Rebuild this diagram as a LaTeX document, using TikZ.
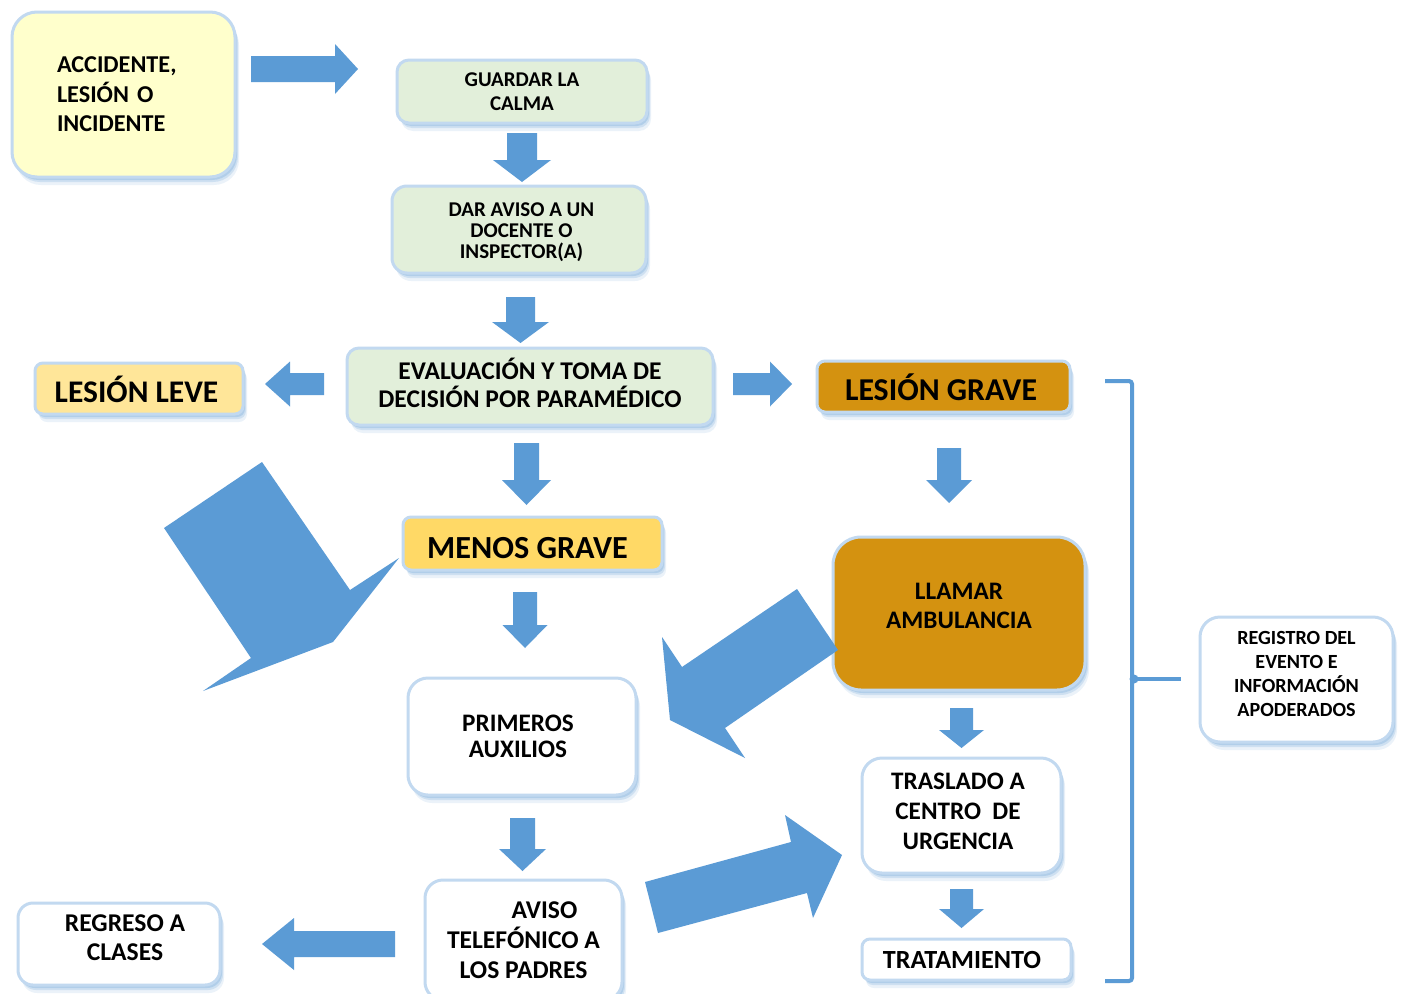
\documentclass[tikz,border=0pt]{standalone}
\usepackage{fontspec}
\setmainfont{Carlito}
\usetikzlibrary{shadows}
\definecolor{arrowblue}{HTML}{5B9BD5}
\definecolor{glowblue}{HTML}{C2D9F0}
\definecolor{paleyellow}{HTML}{FFFFCC}
\definecolor{palegreen}{HTML}{E2EFDA}
\definecolor{leveyellow}{HTML}{FFE699}
\definecolor{menosyellow}{HTML}{FFD966}
\definecolor{goldbox}{HTML}{D49210}
\newcommand{\varw}[6]{\fill[blockarrow] ({#1-#2},#4) -- ({#1+#2},#4) -- ({#1+#2},#5) -- ({#1+#3},#5) -- (#1,#6) -- ({#1-#3},#5) -- ({#1-#2},#5) -- cycle;}
\newcommand{\harw}[6]{\fill[blockarrow] (#4,{#1-#2}) -- (#5,{#1-#2}) -- (#5,{#1-#3}) -- (#6,#1) -- (#5,{#1+#3}) -- (#5,{#1+#2}) -- (#4,{#1+#2}) -- cycle;}
\newcommand{\hs}[1]{\hspace*{#1pt}}
\tikzset{
  box/.style={rectangle, rounded corners=#1, draw=glowblue, line width=3pt, inner sep=0pt,
    align=center, text=black,
    general shadow={fill=arrowblue, opacity=0.12, shadow xshift=4pt, shadow yshift=-8pt},
    general shadow={fill=arrowblue, opacity=0.20, shadow xshift=3pt, shadow yshift=-5pt},
    general shadow={fill=arrowblue, opacity=0.25, shadow xshift=2pt, shadow yshift=-3pt}},
  box/.default=12pt,
  blockarrow/.style={fill=arrowblue, draw=none},
  bracketline/.style={draw=arrowblue, line width=4pt},
  fs/.style n args={2}{font={\bfseries\fontsize{#1}{#2}\selectfont}},
}
\begin{document}
\begin{tikzpicture}[x=1pt, y=-1pt]
\useasboundingbox (0,0) rectangle (1405,993);
\fill[white] (0,0) rectangle (1405,993);

% boxes
\node[box=25pt, fill=paleyellow, minimum width=223pt, minimum height=165pt,
  text width=133pt, align=left, fs={24.2}{29.5}] (acc) at (123.5,94.5)
  {ACCIDENTE,\\LESIÓN O\\INCIDENTE};
\node[box=12pt, fill=palegreen, minimum width=250pt, minimum height=63pt, fs={21}{24}]
  (guard) at (522,91.5) {GUARDAR LA\\CALMA};
\node[box=15pt, fill=palegreen, minimum width=254pt, minimum height=87pt, fs={21}{21}]
  (dar) at (519,229.5) {\mbox{}\\[-1.5pt]\hs{5}DAR AVISO A UN\\\hs{5}DOCENTE O\\\hs{5}INSPECTOR(A)};
\node[box=12pt, fill=palegreen, minimum width=366pt, minimum height=77pt, fs={25.5}{28}]
  (eval) at (530,386.5) {EVALUACIÓN Y TOMA DE\\DECISIÓN POR PARAMÉDICO\\[-20pt]\mbox{}};
\node[box=8pt, fill=leveyellow, minimum width=208pt, minimum height=51pt, fs={31.5}{36},
  text height=27.3pt, text depth=0pt]
  (leve) at (139,388.5) {\hs{-5}LESIÓN LEVE};
\node[box=8pt, fill=goldbox, minimum width=253pt, minimum height=51pt, fs={31.8}{36},
  text height=27.4pt, text depth=0pt]
  (grave) at (943.5,386.5) {\hs{-5}LESIÓN GRAVE};
\node[box=8pt, fill=menosyellow, minimum width=259pt, minimum height=53pt, fs={32.2}{36},
  text height=30.8pt, text depth=0pt]
  (menos) at (532.5,543.5) {\hs{-10}MENOS GRAVE};
\node[box=28pt, fill=goldbox, minimum width=252pt, minimum height=153pt, fs={25.2}{29}]
  (llamar) at (959,613.5) {LLAMAR\\AMBULANCIA\\[-14pt]\mbox{}};
\node[box=20pt, fill=white, minimum width=228pt, minimum height=117pt, fs={25.2}{25.5}]
  (prim) at (522,736.5) {\hs{-8}PRIMEROS\\\hs{-8}AUXILIOS};
\node[box=18pt, fill=white, minimum width=197pt, minimum height=120pt, fs={25.6}{30}]
  (aviso) at (523.5,940) {\hs{42}AVISO\\TELEFÓNICO A\\LOS PADRES};
\node[box=15pt, fill=white, minimum width=202pt, minimum height=82pt, fs={25.6}{29}]
  (regreso) at (119,944) {\hs{12}REGRESO A\\\hs{12}CLASES\\[-17pt]\mbox{}};
\node[box=20pt, fill=white, minimum width=199pt, minimum height=115pt, fs={25.2}{30}]
  (trasl) at (961.5,815.5) {\hs{-7}TRASLADO A\\\hs{-7}CENTRO\ \ DE\\\hs{-7}URGENCIA\\[-22pt]\mbox{}};
\node[box=8pt, fill=white, minimum width=209pt, minimum height=41pt, fs={26.2}{28}]
  (trat) at (966.5,959.5) {\hs{-9}TRATAMIENTO};
\node[box=20pt, fill=white, minimum width=193pt, minimum height=125pt, fs={20.1}{24}]
  (reg) at (1296.5,679.5) {REGISTRO DEL\\EVENTO E\\INFORMACIÓN\\APODERADOS\\[-12pt]\mbox{}};

% straight block arrows
\harw{69}{13}{25}{251}{335}{358}
\varw{522}{15}{29}{133}{160}{182}
\varw{520.5}{14.5}{28.5}{297}{322}{343}
\harw{384}{11}{22.5}{324}{290}{265}
\harw{384}{11}{22.5}{733}{770}{792}
\varw{526.5}{12.5}{24.5}{443}{480}{505}
\varw{525}{12}{22.5}{592}{625}{648}
\varw{522.5}{12.5}{23.5}{818}{849}{871}
\harw{944}{13}{26}{395}{294}{262}
\varw{949}{12}{23}{448}{480}{503}
\varw{961.5}{11.5}{22.5}{708}{730}{748}
\varw{961.5}{11.5}{22.5}{889}{909}{928}

% large slanted arrows
\fill[blockarrow] (262,462) -- (164,528) -- (251,658) -- (203,691) -- (333,642) -- (399,558) -- (350,590) -- cycle;
\fill[blockarrow] (797,589) -- (838,650) -- (725,728) -- (745,758) -- (670,720) -- (662,637) -- (682,667) -- cycle;
\fill[blockarrow] (645,882) -- (791,842) -- (785,815) -- (842,855) -- (813,918) -- (807,893) -- (658,933) -- cycle;

% bracket
\coordinate (btop) at (1105,381);
\coordinate (bbot) at (1105,981);
\coordinate (bmid) at (1132,679);
\coordinate (bend) at (1181,679);
\draw[bracketline, rounded corners=3pt] (btop) -- (1132,381) -- (1132,981) -- (bbot);
\draw[bracketline] (bmid) -- (bend);
\fill[arrowblue] (1134,679) circle (4.5pt);
\end{tikzpicture}
\end{document}
